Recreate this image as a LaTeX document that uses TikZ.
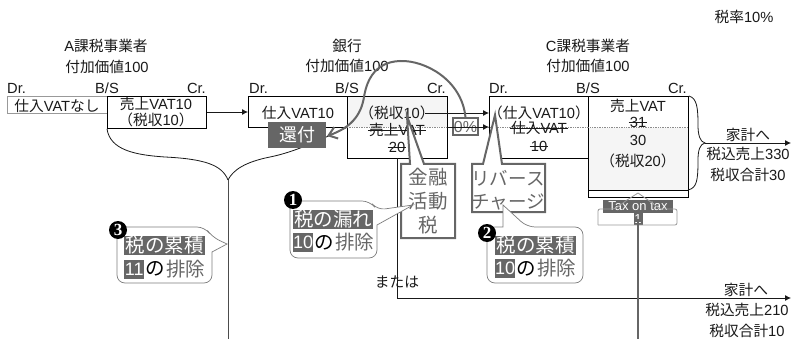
\documentclass[tikz,border=0pt]{standalone}
\usepackage{fontspec}
\setmainfont{Liberation Sans}
\newfontfamily\jp{Noto Sans CJK JP}
\newfontfamily\numserif{Liberation Serif}
\usetikzlibrary{arrows.meta}
\definecolor{dk}{HTML}{666666}
\definecolor{lt}{HTML}{F5F5F5}
\newcommand{\J}[1]{{\jp #1}}
\newcommand{\callsize}{\fontsize{19.5}{21}\selectfont}
\newcommand{\digsize}{\fontsize{18}{20}\selectfont}
\tikzset{
  lab/.style={inner sep=0pt,font=\fontsize{14.7}{16}\selectfont,text=black!90},
  boxa/.style={draw=black,line width=0.8pt,inner sep=0pt,anchor=north west},
  arr/.style={-{Latex[length=6pt,width=6pt]},line width=0.8pt,black!90},
  thickgray/.style={draw=dk,line width=2pt},
  thin callout/.style={draw=dk!85,line width=0.7pt,fill=white},
  hl/.style={fill=dk,text=white,inner sep=0pt,minimum height=19pt,font=\callsize,anchor=west},
  pl/.style={text=dk,inner sep=0pt,font=\callsize,anchor=west},
  blk/.style={text=black,inner sep=0pt,font=\callsize,anchor=west},
  num/.style={circle,fill=black,text=white,inner sep=0pt,minimum size=18pt,font=\numserif\bfseries\fontsize{17}{17}\selectfont},
  strk/.style={line width=0.8pt,black!90,shorten >=-1pt,shorten <=-1pt},
  bigtxt/.style={inner sep=0pt,text=dk,font=\callsize,align=center}
}
\begin{document}
\begin{tikzpicture}[x=1pt,y=-1pt]
\useasboundingbox (0,0) rectangle (794,339);
% headings
\node[lab] (rate) at (744,17) {\J{税率}10\%};
\node[lab] (h1a) at (106,46) {A\J{課税事業者}};
\node[lab] (h1b) at (107,67) {\J{付加価値}100};
\node[lab] (h2a) at (347,46) {\J{銀行}};
\node[lab] (h2b) at (347,66) {\J{付加価値}100};
\node[lab] (h3a) at (588,46) {C\J{課税事業者}};
\node[lab] (h3b) at (588,66) {\J{付加価値}100};
\foreach \n/\a/\b/\c in {a/7/107/206,b/249/347/446,c/489/588/687}{
  \node[lab,anchor=west] (dr\n) at (\a,88) {Dr.};
  \node[lab] (bs\n) at (\b,88) {B/S};
  \node[lab,anchor=east] (cr\n) at (\c,88) {Cr.};
}
% fills behind
\fill[lt] (347,96) rectangle (447,127);
\fill[lt] (588,128) rectangle (688,190);
% boxes
\node[boxa,draw=black!40,minimum width=100pt,minimum height=17pt] (a1) at (7,96) {};
\node[boxa,minimum width=99pt,minimum height=32pt] (a2) at (107,96) {};
\node[boxa,minimum width=99pt,minimum height=31pt] (b1) at (248,96) {};
\node[boxa,minimum width=100pt,minimum height=62pt] (b2) at (347,96) {};
\node[boxa,minimum width=99pt,minimum height=62pt] (c1) at (489,96) {};
\node[boxa,minimum width=100pt,minimum height=94pt] (c2) at (588,96) {};
\node[boxa,minimum width=100pt,minimum height=7pt] (c3) at (588,190) {};
% dotted level lines
\draw[black!45,densely dotted,line width=0.7pt] (347,127.5) -- (688,127.5);
% texts in boxes
\node[lab] (t1) at (57,106) {\J{仕入}VAT\J{なし}};
\node[lab] (t2) at (156,104) {\J{売上}VAT10};
\node[lab] (t3) at (156,120) {\J{（税収}10\J{）}};
\node[lab] (t4) at (298,113) {\J{仕入}VAT10};
\node[lab] (t5) at (397,113) {\J{（税収}10\J{）}};
\node[lab] (t6) at (397,130) {\J{売上}VAT};
\node[lab] (t7) at (397,147) {20};
\node[lab] (t8) at (539,113) {\J{（仕入}VAT10\J{）}};
\node[lab] (t9) at (539,128) {\J{仕入}VAT};
\node[lab] (t10) at (539,146) {10};
\node[lab] (t11) at (638,106) {\J{売上}VAT};
\node[lab] (t12) at (638,122) {31};
\node[lab] (t13) at (638,140) {30};
\node[lab] (t14) at (638,161) {\J{（税収}20\J{）}};
\foreach \s in {t6,t7,t9,t10,t12}{\draw[strk] (\s.west) -- (\s.east);}
% braces
\coordinate (tipA) at (228,180);
\draw[line width=0.8pt,black!90] (a2.south west) .. controls (110,150) and (135,155) .. (165,157)
   .. controls (205,159) and (222,165) .. (tipA);
\draw[line width=0.8pt,black!90] (b2.west) .. controls (320,140) and (295,152) .. (270,157)
   .. controls (245,162) and (233,170) .. (tipA);
\coordinate (botA) at (228,339);
\draw[line width=0.8pt,black!70] (tipA) -- (botA);
\coordinate (tipC) at (705,143);
\draw[line width=0.8pt,black!90] (c2.north east) .. controls (697,98) and (698,108) .. (698,125)
   .. controls (698,135) and (700,142) .. (tipC)
   .. controls (700,144) and (698,150) .. (698,160)
   .. controls (698,180) and (697,188) .. (688,190);
% arrows
\coordinate (hh1) at (791,143);
\draw[arr] (tipC) -- (hh1);
\draw[arr] (a2.east |- 0,112) -- (b1.west |- 0,112);
\coordinate (s5) at (425,113);
\draw[arr] (s5) -- (c1.west |- s5);
\coordinate (s0) at (447,127);
\draw[arr] (s0) -- (489,127);
% またはline
\coordinate (m0) at (397,158);
\coordinate (m1) at (397,298);
\coordinate (m2) at (791,298);
\draw[arr] (m0) -- (m1) -- (m2);
\node[lab] (mata) at (397,282) {\J{または}};
% household labels
\node[lab] (k1) at (748,135) {\J{家計へ}};
\node[lab] (k2) at (748,154) {\J{税込売上}330};
\node[lab] (k3) at (748,175) {\J{税収合計}30};
\node[lab] (k4) at (746,290) {\J{家計へ}};
\node[lab] (k5) at (747,310) {\J{税込売上}210};
\node[lab] (k6) at (747,331) {\J{税収合計}10};
% 0% box and refund arc
\node[thickgray,line width=2pt,fill=white,inner sep=0pt,minimum width=25pt,minimum height=17pt,font=\fontsize{16}{16}\selectfont,text=dk] (zero) at (465.5,127) {0\%};
\draw[strk,black!90,shorten >=0pt,shorten <=0pt] (zero.west) -- (zero.east);
\node[fill=dk,text=white,inner sep=0pt,minimum width=58pt,minimum height=26pt,font=\fontsize{18}{18}\selectfont] (ref) at (297,135) {\J{還付}};
\coordinate (reftip) at (327,136);
\draw[thickgray,-{Straight Barb[length=8pt,width=12pt]}] (zero.north) .. controls (462,80) and (425,60) .. (400,61)
   .. controls (372,62) and (366,85) .. (364,97)
   .. controls (361,116) and (350,128) .. (reftip);
% 金融活動税 callout
\coordinate (p1) at (407,116);
\coordinate (p2) at (495,115);
\draw[thickgray,fill=white] (401,164) -- (410,164) -- (p1) -- (424,164) -- (455,164) -- (455,238) -- (401,238) -- cycle;
\node[bigtxt] (kin) at (428,201) {\J{金融}\\[3pt]\J{活動}\\[3pt]\J{税}};
\draw[thickgray,fill=white] (472,164) -- (483,164) -- (p2) -- (502,164) -- (545,164) -- (545,212) -- (472,212) -- cycle;
\node[bigtxt,font=\fontsize{18.5}{20}\selectfont] (rev) at (508,190) {\J{リバース}\\[3pt]\J{チャージ}};
% thin callouts
\coordinate (q1) at (413,205);
\coordinate (q2) at (503,205);
\coordinate (q3) at (227,244);
\draw[thin callout,rounded corners=8pt] (320,201) -- (370,201) -- (377,210) [sharp corners] -- (q1) -- (377,225) [rounded corners=8pt] -- (377,258) -- (290,258) -- (290,201) -- (320,201);
\draw[thin callout,rounded corners=8pt] (495,227) -- (487,227) -- (487,283) -- (583,283) -- (583,227) -- (527,227) [sharp corners] -- (q2) -- (503,227) -- (495,227);
\draw[thin callout,rounded corners=8pt] (160,227) -- (205,227) -- (212,237) [sharp corners] -- (q3) -- (212,252) [rounded corners=8pt] -- (212,283) -- (117,283) -- (117,227) -- (160,227);
% callout texts
\node[hl,minimum width=80pt,text width=80pt,align=center] (c1a) at (293,219.5) {\J{税の漏れ}};
\node[hl,minimum width=20pt,font=\digsize] (c1b) at (293,242.5) {10};
\node[blk] (c1c) at (314,242.5) {\J{の}};
\node[pl] (c1d) at (335,242.5) {\J{排除}};
\node[hl,minimum width=81pt,text width=81pt,align=center] (c2a) at (495,245.5) {\J{税の累積}};
\node[hl,minimum width=20pt,font=\digsize] (c2b) at (495,268.5) {10};
\node[blk] (c2c) at (516,268.5) {\J{の}};
\node[pl] (c2d) at (537,268.5) {\J{排除}};
\node[hl,minimum width=81pt,text width=81pt,align=center] (c3a) at (124,245.5) {\J{税の累積}};
\node[hl,minimum width=20pt,font=\digsize] (c3b) at (124,269) {11};
\node[blk] (c3c) at (145,269) {\J{の}};
\node[pl] (c3d) at (166,269) {\J{排除}};
\node[num] (n1) at (293,200) {1};
\node[num] (n2) at (487,233) {2};
\node[num] (n3) at (118,230) {3};
% Tax on tax
\node[fill=dk,text=white,inner sep=0pt,minimum width=70pt,minimum height=13pt,font=\fontsize{13}{13}\selectfont] (tax) at (638,206.5) {Tax on tax};
\node[fill=dk,text=white,inner sep=0pt,minimum width=9pt,minimum height=12pt,font=\fontsize{13}{13}\selectfont] (one) at (638,219) {1};
\coordinate (taxtip) at (638,193);
\draw[black!40,line width=0.8pt,rounded corners=2pt] (598,225) -- (598,209) -- (615,209) -- (627,200);
\draw[black!40,line width=0.8pt] (627,200) -- (taxtip) -- (648,200);
\draw[black!40,line width=0.8pt,rounded corners=2pt] (648,200) -- (660,209) -- (677,209) -- (677,225) -- (598,225);
\coordinate (bot) at (638,339);
\draw[thickgray,line width=1.6pt] (one.center) -- (bot);
\end{tikzpicture}
\end{document}
